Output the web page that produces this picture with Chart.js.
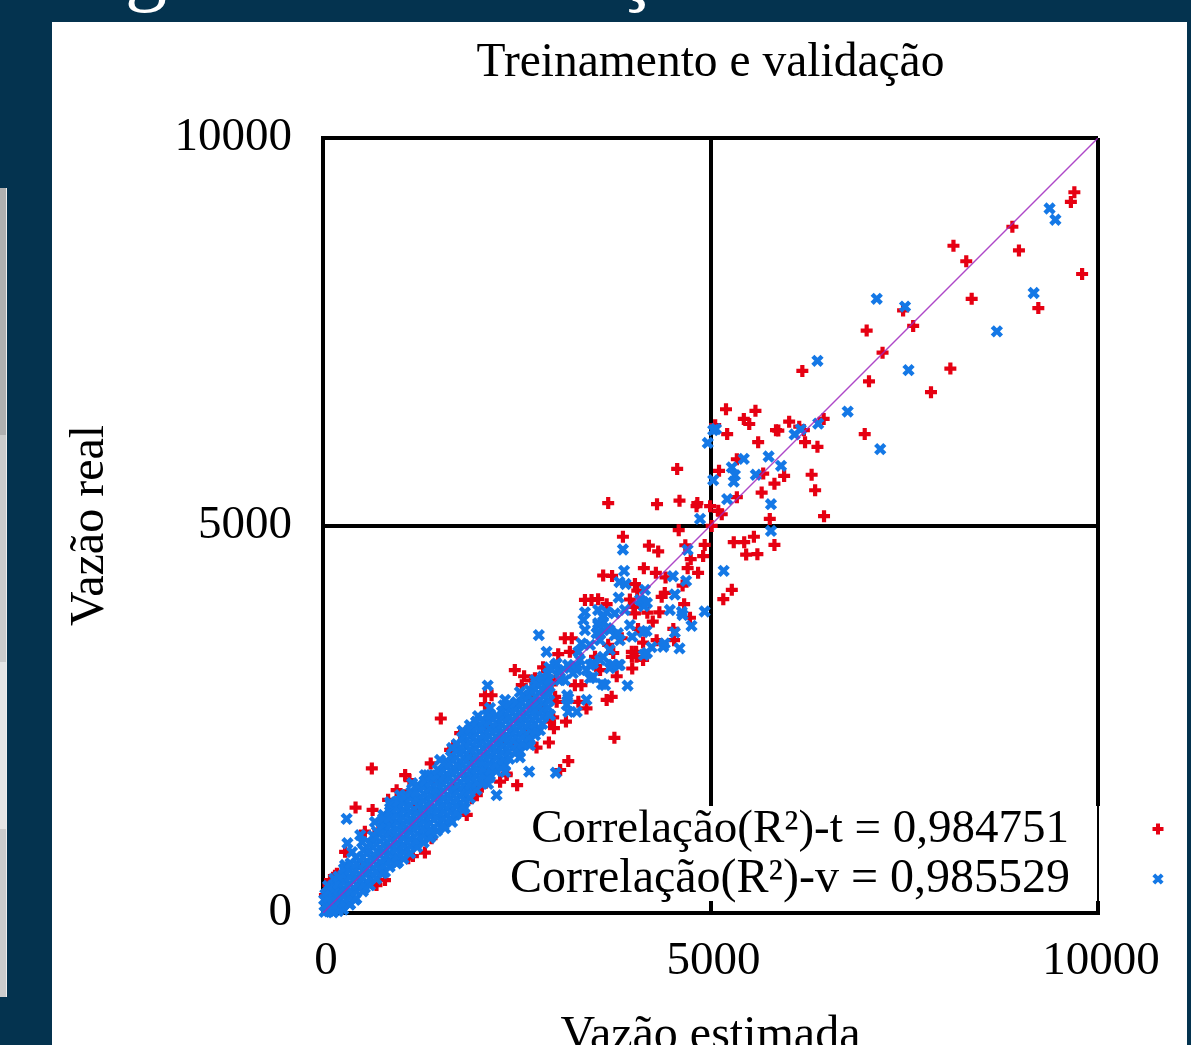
<!DOCTYPE html>
<html>
<head>
<meta charset="utf-8">
<title>Treinamento e validação</title>
<script src="https://cdn.jsdelivr.net/npm/chart.js@4/dist/chart.umd.min.js"></script>
<style>
    html, body { margin: 0; height: 100%; overflow: hidden; background: #04334f; }
    #panel { position: absolute; left: 52px; top: 22px; width: 1135px; height: 1023px; background: #fff; }
    #barChart { position: absolute; left: 0; top: 0; }
    .cut { position: absolute; top: -75px; color: #fff; font: 84px/84px "Liberation Serif", serif; }
    .tab { position: absolute; left: 0; width: 6px; border-right: 1px solid #eee; }
</style>
</head>
<body>
<div class="tab" style="top:188px;height:247px;background:#b0b0b0"></div>
<div class="tab" style="top:435px;height:227px;background:#ccc"></div>
<div class="tab" style="top:662px;height:167px;background:#e5e5e5"></div>
<div class="tab" style="top:829px;height:168px;background:#ccc"></div>
<span class="cut" style="left:125px">g</span>
<span class="cut" style="left:616px">ç</span>
<div id="panel"></div>
<canvas id="barChart" width="1191" height="1100"></canvas>
<script>
var chartTitle = 'Treinamento e validação';
var xTitle = 'Vazão estimada';
var yTitle = 'Vazão real';
var tickValues = [0, 5000, 10000];
var legendLabels = ['Correlação(R²)-t = 0,984751', 'Correlação(R²)-v = 0,985529'];
var fitLine = [[0, 0], [10000, 10000]];

// treinamento
var redPoints = [
    [9695,9300],[9650,9175],[8895,8855],[8135,8610],[8300,8410],[8980,8550],[9795,8245],[8370,7925],
    [9230,7805],[7485,7775],[7615,7575],[7015,7515],[7220,7230],[8095,7025],[6185,6995],[7045,6860],
    [7845,6720],[6460,6375],[6015,6340],[6145,6275],[6205,6230],[6990,6180],[6220,6075],[6380,6015],
    [5200,6500],[5580,6480],[5430,6375],[5500,6310],[5845,6230],[5875,6225],[5215,6180],[5615,6075],
    [5060,6295],[5340,5855],[5110,5705],[4570,5730],[5950,5640],[5680,5670],[6305,5655],[5825,5540],
    [6350,5455],[5660,5425],[5340,5365],[3680,5290],[4310,5275],[4600,5320],[4830,5290],[4820,5250],
    [4995,5250],[5100,5190],[5145,5145],[6465,5120],[5765,5085],[5015,4995],[4590,4940],[3870,4855],
    [5560,4855],[5300,4785],[5435,4785],[5825,4750],[4205,4740],[4325,4665],[4675,4745],[4925,4750],
    [4905,4605],[5460,4625],[5605,4630],[4745,4565],[4140,4450],[4705,4450],[3615,4355],[3730,4350],
    [4295,4390],[4420,4330],[4840,4390],[4640,4225],[4025,4245],[4055,4160],[5275,4170],[5165,4050],
    [4410,4130],[4370,4080],[3960,4045],[3380,4040],[3465,4040],[3550,4050],[4660,3985],[3660,3985],
    [4005,3950],[4025,3865],[4185,3875],[4340,3880],[4255,3760],[4735,3810],[4065,3665],[4520,3665],
    [3120,3545],[3210,3545],[4305,3520],[4130,3490],[4530,3520],[3855,3545],[3985,3370],[4040,3370],
    [3035,3340],[3185,3370],[3680,3460],[3985,3305],[4045,3305],[4130,3265],[3990,3155],[2840,3170],
    [2475,3135],[2595,3055],[2735,3030],[3790,3055],[3510,3305],[3575,3135],[3745,3355],[2690,3000],
    [2565,2940],[3250,2940],[3335,2940],[3725,2790],[3660,2750],[3295,2725],[3400,2640],[2995,2790],
    [3015,2725],[2970,2525],[2930,2470],[3135,2470],[2980,2385],[2605,2320],[2915,2200],[2755,2135],
    [2475,2155],[3760,2260],[3165,1960],[3060,1845],[2370,1800],[2090,2810],[2175,2810],[1520,2510],
    [1390,1930],[1060,1780],[1115,1715],[1640,2105],[1680,2145],[1770,2320],[2090,2695],[2285,1695],
    [2370,1780],[2505,1650],[1985,1520],[1960,1585],[2050,1630],[1920,1480],[1855,1265],[2110,1835],
    [1060,1520],[420,1360],[640,1330],[885,1370],[840,1460],[950,1585],[285,790],[155,480],[70,360],
    [540,1050],[715,1060],[820,1165],[1315,780],[1100,705],[1160,735],[1400,965],[690,360],[800,425],
    [25,230],[630,1865],[90,425],[180,505],
    [300,450],[500,600],[900,1000],[1200,1400],[1500,1700],[1700,1600],[1900,2000],[2100,2400],
    [2300,2200],[2500,2500],[2700,2750],[2800,2650],[2900,2900],[3000,3000],[1350,1250],[750,800]
];

// validacao, the dense part of the cloud is mostly this series
var bluePoints = [
    [9375,9090],[9450,8945],[9170,8000],[7145,7925],[7510,7825],[8695,7505],[6380,7125],[7555,7005],
    [6770,6470],[6390,6315],[6165,6240],[6085,6175],[7190,5985],[5070,6245],[5035,6230],[4965,6065],
    [5750,5890],[5910,5770],[5430,5860],[5275,5750],[5315,5650],[5300,5565],[5585,5655],[5035,5585],
    [5215,5340],[5780,5275],[4865,5085],[5780,4930],[4705,4685],[3870,4690],[5170,4415],[3885,4415],
    [4515,4345],[3825,4270],[3905,4245],[4685,4285],[4155,4170],[4540,4110],[3815,4070],[4130,4015],
    [4140,3960],[4475,3910],[4630,3885],[4640,3845],[4925,3890],[3380,3880],[3360,3780],[3550,3910],
    [3660,3885],[3765,3865],[3895,3910],[4755,3705],[3550,3715],[3615,3760],[3530,3610],[4175,3640],
    [4540,3620],[2785,3585],[3990,3565],[3765,3585],[4240,3430],[4410,3480],[4390,3435],[4600,3415],
    [4140,3330],[2885,3370],[3335,3480],[3295,3370],[2995,3200],[3035,3135],[3275,3180],[3400,3135],
    [3485,3220],[3615,3305],[3745,3200],[3830,3200],[2125,2935],[3930,2935],[2660,1825],[3005,1810],
    [2670,2230],[3165,2770],[3145,2685],[3165,2595],[3275,2595],[3400,2750],[3640,2940],[3810,3200],
    [3015,3220],[2240,1520],[305,1215],[315,900],[780,1265],
    [3060,3110],[3185,3160],[3315,3265],[3445,3200],[3575,3265],[3700,3160],[3120,3005],[3445,3030],
    [3600,2955],[2890,2875],[3575,3520],[3445,3460],[3700,3395],[3830,3520],[3380,3650],[3700,3650],[3960,3715],
    [3550,3740],[3615,3820],[4090,4040],[4180,4000],[3805,3610],[3160,3200],[3275,3135],[3730,3200],
    [3575,3610],[3665,3675],[2890,3005],[3060,3005],[3225,3095],[3485,3045],[3150,2810],[4130,3625],[4180,3355],
    [480,1005],[670,1175],[865,1430],[995,1520],[1150,1675],[1315,1780],[1510,1975],[1665,2130],
    [1795,2260],[1895,2425],[2000,2540],[2155,2645],[2350,2750],[2540,2850],[2735,3005],
    [415,170],[605,360],[800,530],[1380,970],[1575,1095],[1705,1265],[1830,1355],[2155,1780],
    [2350,1910],[2540,2075],[2735,2295],[2930,2555],
    // outer edges of the band
    [170,400],[285,620],[375,785],[505,915],[645,995],[785,1110],[865,1265],[930,1395],
    [1060,1520],[1225,1650],[1355,1780],[1600,1950],[1770,2130],[1870,2335],[1975,2465],[2115,2555],
    [2310,2595],[2475,2685],
    [350,115],[540,325],[760,515],[970,660],[1420,1020],[1665,1175],[1805,1330],[2130,1665],
    [2350,1820],[2540,2010],[2670,2165],[2800,2360],
    [20,15],[25,95],[15,170],[30,240],
    [75,20],[80,110],[70,195],[85,290],[65,350],
    [130,10],[135,100],[125,185],[140,275],[130,360],[145,440],
    [195,25],[200,115],[190,205],[205,290],[195,375],[200,470],
    [260,45],[270,130],[255,220],[265,310],[275,400],[260,490],[270,570],
    [345,110],[340,200],[355,285],[345,375],[350,465],[340,555],[355,640],
    [430,185],[425,280],[440,365],[430,455],[420,545],[435,635],[425,720],
    [515,280],[525,365],[510,455],[520,545],[530,630],[515,720],[525,810],
    [600,360],[610,445],[595,535],[605,625],[615,715],[600,805],[610,890],
    [690,440],[680,530],[695,620],[685,710],[700,795],[690,885],[680,975],[695,1050],
    [780,520],[770,610],[785,695],[775,785],[790,875],[780,965],[770,1055],[785,1140],[775,1220],
    [860,595],[870,680],[855,770],[865,860],[875,950],[860,1040],[870,1130],[855,1220],[865,1310],[875,1395],
    [950,640],[960,730],[945,820],[955,905],[965,995],[950,1085],[960,1175],[945,1265],[955,1350],[965,1440],
    [1040,700],[1030,790],[1045,880],[1035,970],[1050,1060],[1040,1145],[1030,1235],[1045,1325],[1035,1415],[1050,1500],
    [1125,770],[1135,860],[1120,950],[1130,1040],[1140,1125],[1125,1215],[1135,1305],[1120,1395],[1130,1485],[1140,1560],
    [1215,850],[1205,935],[1220,1025],[1210,1115],[1200,1205],[1215,1295],[1225,1385],[1210,1470],[1200,1560],[1220,1645],
    [1300,910],[1290,1000],[1305,1090],[1295,1180],[1310,1270],[1300,1360],[1290,1450],[1305,1535],[1295,1625],[1310,1700],
    [1385,980],[1395,1070],[1380,1160],[1390,1250],[1400,1335],[1385,1425],[1395,1515],[1380,1605],[1390,1690],[1400,1770],
    [1470,1060],[1480,1150],[1465,1240],[1475,1330],[1485,1420],[1470,1510],[1460,1595],[1475,1685],[1465,1775],[1480,1850],
    [1555,1130],[1545,1220],[1560,1310],[1550,1395],[1565,1485],[1555,1575],[1545,1665],[1560,1755],[1550,1840],[1565,1930],
    [1640,1210],[1650,1300],[1635,1390],[1645,1480],[1655,1570],[1640,1655],[1630,1745],[1645,1835],[1635,1925],[1650,2020],
    [1725,1290],[1715,1385],[1730,1470],[1720,1560],[1735,1650],[1725,1740],[1715,1830],[1730,1915],[1720,2005],[1735,2095],[1725,2180],
    [1810,1375],[1820,1465],[1805,1555],[1815,1640],[1825,1730],[1810,1820],[1800,1910],[1815,2000],[1805,2090],[1820,2180],[1810,2270],[1800,2350],
    [1895,1480],[1885,1570],[1900,1655],[1890,1745],[1905,1835],[1895,1925],[1885,2015],[1900,2105],[1890,2195],[1905,2285],[1895,2370],
    [1980,1590],[1990,1680],[1975,1770],[1985,1860],[1995,1950],[1980,2035],[1970,2125],[1985,2215],[1975,2305],[1990,2395],[1980,2470],
    [2065,1680],[2055,1770],[2070,1855],[2060,1945],[2075,2035],[2065,2125],[2055,2215],[2070,2300],[2060,2390],[2075,2480],
    [2150,1750],[2160,1840],[2145,1930],[2155,2020],[2165,2110],[2150,2195],[2140,2285],[2155,2375],[2145,2465],[2160,2550],
    [2235,1830],[2225,1915],[2240,2005],[2230,2095],[2245,2185],[2235,2275],[2225,2365],[2240,2450],[2230,2540],
    [2320,1890],[2330,1980],[2315,2070],[2325,2160],[2335,2250],[2320,2340],[2310,2430],[2325,2520],[2315,2600],[2330,2680],
    [2405,1990],[2395,2080],[2410,2170],[2400,2255],[2415,2345],[2405,2435],[2395,2525],[2410,2615],[2400,2700],
    [2490,2090],[2500,2180],[2485,2270],[2495,2360],[2505,2450],[2490,2540],[2480,2630],[2495,2720],
    [2575,2180],[2565,2270],[2580,2355],[2570,2445],[2585,2535],[2575,2625],[2565,2715],[2580,2800],
    [2660,2265],[2670,2355],[2655,2445],[2665,2535],[2675,2620],[2660,2710],[2650,2800],[2665,2880],
    [2745,2350],[2735,2440],[2750,2530],[2740,2620],[2755,2710],[2745,2795],[2735,2885],[2750,2960],
    [2830,2440],[2840,2530],[2825,2615],[2835,2705],[2845,2795],[2830,2885],[2820,2975],[2835,3050],
    [2915,2560],[2905,2650],[2920,2740],[2910,2830],[2925,2920],[2915,3010],[2905,3090],[2920,3170]
];

function toXY(points) {
    return points.map(function (p) { return { x: p[0], y: p[1] }; });
}

var redColor = '#e60012';
var blueColor = '#1478e6';

function drawMark(ctx, style, x, y, color) {
    ctx.save();
    ctx.strokeStyle = color;
    ctx.lineWidth = 4;
    ctx.beginPath();
    if (style === 'cross') {
        ctx.moveTo(x - 5.5, y); ctx.lineTo(x + 5.5, y);
        ctx.moveTo(x, y - 5.5); ctx.lineTo(x, y + 5.5);
    } else {
        ctx.moveTo(x - 4.2, y - 4.2); ctx.lineTo(x + 4.2, y + 4.2);
        ctx.moveTo(x - 4.2, y + 4.2); ctx.lineTo(x + 4.2, y - 4.2);
    }
    ctx.stroke();
    ctx.restore();
}

// gnuplot key: white box over the frame, text, and the samples outside the plot
var keyPlugin = {
    id: 'keyBox',
    afterDraw: function (chart) {
        var ctx = chart.ctx;
        var a = chart.chartArea;
        ctx.save();
        ctx.fillStyle = '#fff';
        ctx.fillRect(505, 806, a.right + 3 - 505, 95);
        ctx.fillStyle = '#000';
        ctx.fillRect(a.right - 1, 806, 2, 95);
        ctx.textAlign = 'right';
        ctx.textBaseline = 'alphabetic';
        ctx.font = '47px "Liberation Serif"';
        ctx.fillText(legendLabels[0], 1069, 842);
        ctx.font = '48px "Liberation Serif"';
        ctx.fillText(legendLabels[1], 1070, 892);
        ctx.restore();
        drawMark(ctx, 'cross', 1158, 829, redColor);
        drawMark(ctx, 'crossRot', 1158, 879, blueColor);
    }
};

Chart.defaults.font.family = '"Liberation Serif", serif';
Chart.defaults.font.size = 47;
Chart.defaults.color = '#000';

var axisGrid = { color: '#000', lineWidth: 4, drawTicks: false };
var axisBorder = { color: '#000', width: 4 };

function fixedTicks(axis) {
    axis.ticks = tickValues.map(function (v) { return { value: v }; });
}

var ctxScatter = document.getElementById('barChart').getContext('2d');
var scatterChart = new Chart(ctxScatter, {
    type: 'scatter',
    data: {
        datasets: [
            {
                label: 'y = x',
                type: 'line',
                data: toXY(fitLine),
                borderColor: 'rgba(160, 40, 190, 0.85)',
                borderWidth: 1.4,
                pointRadius: 0,
                order: 1
            },
            {
                label: 'validação',
                data: toXY(bluePoints),
                pointStyle: 'crossRot',
                pointRadius: 6.5,
                pointBorderWidth: 4.4,
                pointBorderColor: blueColor,
                pointBackgroundColor: blueColor,
                clip: false,
                order: 2
            },
            {
                label: 'treinamento',
                data: toXY(redPoints),
                pointStyle: 'cross',
                pointRadius: 6,
                pointBorderWidth: 4.2,
                pointBorderColor: redColor,
                pointBackgroundColor: redColor,
                clip: false,
                order: 3
            }
        ]
    },
    options: {
        responsive: false,
        animation: false,
        layout: { padding: { right: 93 } },
        plugins: {
            legend: { display: false },
            tooltip: { enabled: false },
            title: {
                display: true,
                text: chartTitle,
                fullSize: false,
                font: { size: 47.5, weight: 'normal' },
                padding: { top: 35, bottom: 46 }
            }
        },
        scales: {
            x: {
                type: 'linear',
                min: 0,
                max: 10000,
                afterBuildTicks: fixedTicks,
                afterFit: function (s) { s.height = 187; },
                grid: axisGrid,
                border: axisBorder,
                ticks: {
                    padding: 20,
                    labelOffset: 3,
                    maxRotation: 0,
                    callback: function (v) { return String(v); }
                },
                title: { display: true, text: xTitle, font: { size: 48 }, padding: { top: 0, bottom: 35 } }
            },
            y: {
                type: 'linear',
                min: 0,
                max: 10000,
                afterBuildTicks: fixedTicks,
                afterFit: function (s) { s.width = 323; },
                grid: axisGrid,
                border: axisBorder,
                ticks: {
                    padding: 31,
                    callback: function (v) { return String(v); }
                },
                title: { display: true, text: yTitle, font: { size: 48 }, padding: { top: 62, bottom: 0 } }
            }
        }
    },
    plugins: [keyPlugin]
});
</script>
</body>
</html>
